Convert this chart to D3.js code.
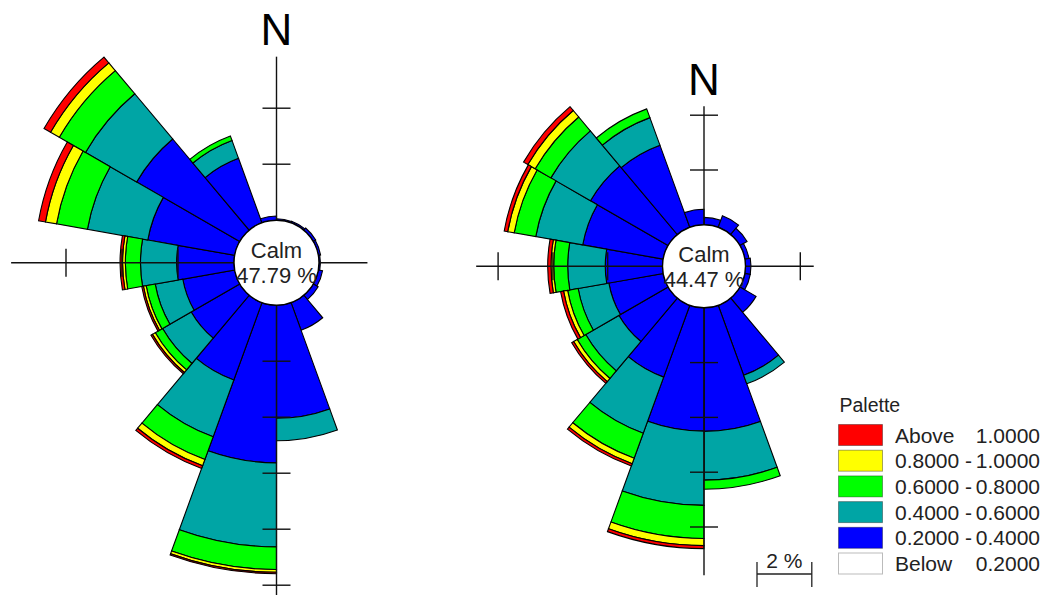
<!DOCTYPE html>
<html>
<head>
<meta charset="utf-8">
<script src="https://cdn.jsdelivr.net/npm/d3@7/dist/d3.min.js"></script>
<style>
  body { margin: 0; background: #ffffff; }
  svg { display: block; }
  text { font-family: "Liberation Sans", Arial, Helvetica, sans-serif; }
</style>
</head>
<body>
<svg id="chart" width="1047" height="595"></svg>
<script>
// Sector centres (degrees clockwise from north), 20° wide sectors
const directions = [10, 30, 50, 70, 90, 110, 130, 150, 170, 190, 210, 230, 250, 270, 290, 310, 330, 350];

// Frequency (%) per sector for each class — left rose
const leftClass1 = [0.05, 0.06, 0.10, 0.08, 0.05, 0.15, 0.20, 1.05, 4.04, 5.63, 2.94, 2.00, 1.88, 2.05, 3.15, 4.25, 2.45, 0.15]; // 0.2 - 0.4
const leftClass2 = [0, 0, 0, 0, 0, 0, 0, 0, 0.80, 3.00, 2.16, 1.18, 1.00, 1.29, 2.19, 2.11, 0.68, 0];                       // 0.4 - 0.6
const leftClass3 = [0, 0, 0, 0, 0, 0, 0, 0, 0, 0.81, 0.86, 0.30, 0.33, 0.54, 1.12, 1.08, 0.17, 0];                         // 0.6 - 0.8
const leftClass4 = [0, 0, 0, 0, 0, 0, 0, 0, 0, 0.10, 0.24, 0.12, 0.10, 0.10, 0.40, 0.36, 0, 0];                             // 0.8 - 1.0
const leftClass5 = [0, 0, 0, 0, 0, 0, 0, 0, 0, 0.05, 0.10, 0.06, 0.06, 0.09, 0.25, 0.27, 0, 0];                             // above 1.0
const leftCalm = 47.79;

// Frequency (%) per sector for each class — right rose
const rightClass1 = [0.27, 0.45, 0.30, 0.15, 0.20, 0.20, 0.68, 2.72, 4.51, 4.50, 2.79, 2.07, 2.01, 2.09, 2.98, 3.27, 3.19, 0.57];
const rightClass2 = [0, 0, 0, 0, 0, 0, 0, 0.33, 1.78, 2.71, 2.18, 1.40, 1.14, 1.37, 1.74, 1.67, 1.07, 0];
const rightClass3 = [0, 0, 0, 0, 0, 0, 0, 0, 0.33, 1.21, 0.97, 0.36, 0.39, 0.51, 0.80, 0.66, 0.34, 0];
const rightClass4 = [0, 0, 0, 0, 0, 0, 0, 0, 0, 0.26, 0.21, 0.15, 0.15, 0.10, 0.24, 0.31, 0, 0];
const rightClass5 = [0, 0, 0, 0, 0, 0, 0, 0, 0, 0.11, 0.09, 0.08, 0.11, 0.12, 0.13, 0.18, 0, 0];
const rightCalm = 44.47;

// Axis extents (%) per compass direction: N, E, S, W
const leftAxisExtent = [5.84, 1.73, 10.6, 7.96];
const rightAxisExtent = [4.33, 2.49, 9.76, 6.8];
const tickStep = 2;       // % between axis ticks
const scaleBarValue = 2;  // % shown by the scale bar

// Legend (palette) entries, top to bottom
const legendLeft = ["Above", "0.8000 -", "0.6000 -", "0.4000 -", "0.2000 -", "Below"];
const legendRight = ["1.0000", "1.0000", "0.8000", "0.6000", "0.4000", "0.2000"];
const legendColors = ["#ff0000", "#ffff00", "#00ff00", "#00a5a5", "#0000ff", "#ffffff"];
const classColors = ["#0000ff", "#00a5a5", "#00ff00", "#ffff00", "#ff0000"];

const svg = d3.select("#chart");
const deg = Math.PI / 180;
const sectorWidth = 20;

function drawRose(opt) {
  const { cx, cy, r0, pxPerPct, classes, calm, axisExtent } = opt;
  const r = d3.scaleLinear().domain([0, 1]).range([r0, r0 + pxPerPct]);
  const g = svg.append("g").attr("transform", `translate(${cx},${cy})`);

  // Stack the classes per sector
  const rows = directions.map((d, i) => {
    const row = { dir: d };
    classes.forEach((c, k) => { row["c" + k] = c[i]; });
    return row;
  });
  const keys = classes.map((c, k) => "c" + k);
  const stacked = d3.stack().keys(keys)(rows);

  const arc = d3.arc();
  stacked.forEach((layer, k) => {
    g.append("g").selectAll("path")
      .data(layer.filter(s => s[1] - s[0] > 0))
      .join("path")
      .attr("d", s => arc({
        innerRadius: r(s[0]),
        outerRadius: r(s[1]),
        startAngle: (s.data.dir - sectorWidth / 2) * deg,
        endAngle: (s.data.dir + sectorWidth / 2) * deg
      }))
      .attr("fill", classColors[k])
      .attr("stroke", "#000")
      .attr("stroke-width", 1.1)
      .attr("stroke-linejoin", "miter");
  });

  // Compass axes with ticks every 2 %
  const axisG = g.append("g").attr("stroke", "#111").attr("stroke-width", 1.4);
  const compass = [0, 90, 180, 270];
  compass.forEach((a, i) => {
    const ux = Math.sin(a * deg), uy = -Math.cos(a * deg);
    const len = r(axisExtent[i]);
    axisG.append("line").attr("x1", 0).attr("y1", 0).attr("x2", ux * len).attr("y2", uy * len);
    d3.range(tickStep, axisExtent[i] + 1e-9, tickStep).forEach(v => {
      const rr = r(v);
      const px = -uy, py = ux;
      axisG.append("line")
        .attr("x1", ux * rr - px * 14).attr("y1", uy * rr - py * 14)
        .attr("x2", ux * rr + px * 14).attr("y2", uy * rr + py * 14);
    });
  });

  // Calm circle
  g.append("circle").attr("r", r0).attr("fill", "#fff").attr("stroke", "#000").attr("stroke-width", 1.4);
  g.append("text").attr("x", 0).attr("y", -4.5).attr("text-anchor", "middle")
    .attr("font-size", 22).attr("fill", "#222").text("Calm");
  g.append("text").attr("x", 0).attr("y", 20.8).attr("text-anchor", "middle")
    .attr("font-size", 22).attr("fill", "#222").text(d3.format(".2f")(calm) + " %");

  // North label above the north axis
  g.append("text").attr("x", 0).attr("y", -r(axisExtent[0]) - 11.5)
    .attr("text-anchor", "middle").attr("font-size", 44).attr("fill", "#000").text("N");

  return r;
}

drawRose({
  cx: 276.5, cy: 262.7, r0: 42.5, pxPerPct: 28,
  classes: [leftClass1, leftClass2, leftClass3, leftClass4, leftClass5],
  calm: leftCalm, axisExtent: leftAxisExtent
});

const rightScale = drawRose({
  cx: 704, cy: 266.3, r0: 41.5, pxPerPct: 27.4,
  classes: [rightClass1, rightClass2, rightClass3, rightClass4, rightClass5],
  calm: rightCalm, axisExtent: rightAxisExtent
});

// Scale bar
const barLen = rightScale(scaleBarValue) - rightScale(0);
const bar = svg.append("g").attr("transform", "translate(757,574)").attr("stroke", "#222").attr("stroke-width", 1.3);
bar.append("line").attr("x1", 0).attr("y1", 0).attr("x2", barLen).attr("y2", 0);
bar.append("line").attr("x1", 0).attr("y1", -12).attr("x2", 0).attr("y2", 13);
bar.append("line").attr("x1", barLen).attr("y1", -12).attr("x2", barLen).attr("y2", 13);
svg.append("text").attr("x", 757 + barLen / 2).attr("y", 568).attr("text-anchor", "middle")
  .attr("font-size", 21).attr("fill", "#222").text(scaleBarValue + " %");

// Palette legend
const legend = svg.append("g");
legend.append("text").attr("x", 839.5).attr("y", 411.5).attr("font-size", 19.5).attr("fill", "#222").text("Palette");
legendColors.forEach((c, i) => {
  const y = 424.5 + i * 25.7;
  legend.append("rect").attr("x", 838.5).attr("y", y).attr("width", 44).attr("height", 21)
    .attr("fill", c).attr("stroke", i === 5 ? "#bbb" : "rgba(0,0,0,0.35)").attr("stroke-width", 1);
  legend.append("text").attr("x", 895).attr("y", y + 18).attr("font-size", 21).attr("fill", "#222").text(legendLeft[i]);
  legend.append("text").attr("x", 1040).attr("y", y + 18).attr("text-anchor", "end").attr("font-size", 21).attr("fill", "#222").text(legendRight[i]);
});
</script>
</body>
</html>
